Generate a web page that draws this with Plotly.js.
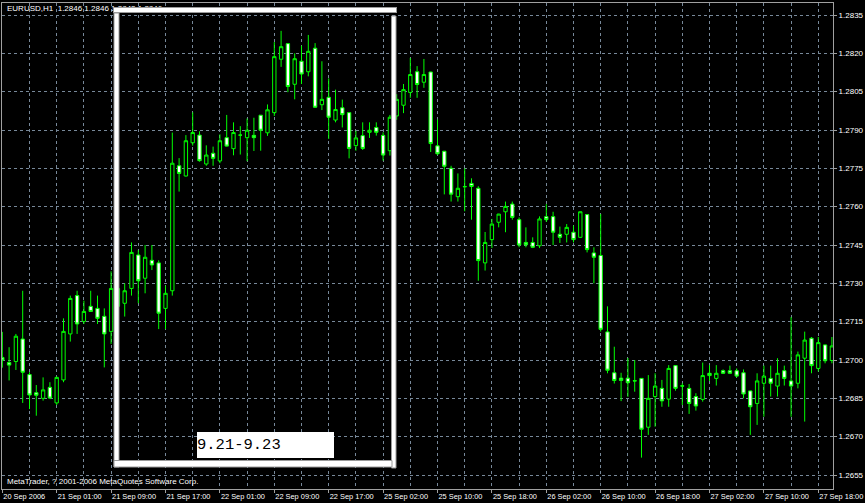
<!DOCTYPE html>
<html>
<head>
<meta charset="utf-8">
<script src="https://cdn.plot.ly/plotly-3.0.1.min.js"></script>
<style>html,body{margin:0;padding:0;background:#000;}#chart{width:865px;height:503px;}</style>
</head>
<body>
<div id="chart"></div>
<script>
// EURUSD H1 candles
const open = [1.27010,1.26990,1.26994,1.27082,1.26943,1.26872,1.26850,1.26893,1.26832,1.26922,
1.27102,1.27252,1.27151,1.27210,1.27202,1.27171,1.27112,1.27210,1.27222,1.27280,
1.27411,1.27320,1.27390,1.27380,1.27202,1.27271,1.27760,1.27720,1.27850,1.27880,
1.27767,1.27809,1.27779,1.27870,1.27827,1.27880,1.27870,1.27879,1.27958,1.27889,
1.27968,1.28177,1.28238,1.28079,1.28169,1.28128,1.28220,1.27999,1.28028,1.27939,
1.27987,1.27968,1.27839,1.27878,1.27891,1.27910,1.27879,1.27819,1.27955,1.27997,
1.28047,1.28128,1.28087,1.28127,1.27838,1.27817,1.27750,1.27639,1.27679,1.27691,
1.27672,1.27380,1.27471,1.27539,1.27580,1.27610,1.27549,1.27460,1.27460,1.27447,
1.27561,1.27561,1.27492,1.27492,1.27500,1.27480,1.27569,1.27419,1.27409,1.27110,
1.26950,1.26929,1.26929,1.26919,1.26928,1.26737,1.26857,1.26889,1.26847,1.26978,
1.26899,1.26889,1.26857,1.26846,1.26948,1.26928,1.26958,1.26958,1.26958,1.26950,
1.26879,1.26830,1.26909,1.26928,1.26898,1.26958,1.26918,1.26909,1.27007,1.27085,
1.26967,1.27059,1.26998];
const high = [1.27110,1.27050,1.27102,1.27271,1.26952,1.26902,1.26932,1.26913,1.26935,1.27163,
1.27252,1.27271,1.27232,1.27271,1.27252,1.27202,1.27347,1.27300,1.27300,1.27460,
1.27430,1.27450,1.27450,1.27390,1.27291,1.27890,1.27790,1.27880,1.27969,1.27895,
1.27840,1.27835,1.27883,1.27959,1.27930,1.27915,1.27945,1.27948,1.27958,1.28000,
1.28244,1.28288,1.28239,1.28200,1.28230,1.28272,1.28240,1.28169,1.28102,1.28058,
1.28019,1.27969,1.27897,1.27930,1.27930,1.27930,1.27891,1.27959,1.28040,1.28080,
1.28182,1.28150,1.28178,1.28128,1.27941,1.27818,1.27760,1.27730,1.27750,1.27711,
1.27680,1.27501,1.27552,1.27572,1.27620,1.27620,1.27558,1.27519,1.27480,1.27562,
1.27610,1.27580,1.27522,1.27532,1.27526,1.27581,1.27571,1.27441,1.27571,1.27210,
1.27052,1.26950,1.27008,1.27000,1.26929,1.26941,1.26948,1.26922,1.26980,1.26979,
1.26909,1.26906,1.26870,1.26990,1.26980,1.26980,1.26963,1.26978,1.26967,1.26963,
1.26880,1.26948,1.26978,1.26978,1.27007,1.26978,1.27168,1.27033,1.27111,1.27090,
1.27090,1.27060,1.27090];
const low = [1.26970,1.26920,1.26961,1.26832,1.26808,1.26782,1.26841,1.26847,1.26824,1.26913,
1.27072,1.27102,1.27141,1.27188,1.27141,1.26971,1.27063,1.27190,1.27170,1.27252,
1.27222,1.27261,1.27352,1.27121,1.27121,1.27252,1.27659,1.27718,1.27839,1.27776,
1.27760,1.27760,1.27770,1.27835,1.27801,1.27804,1.27778,1.27818,1.27819,1.27877,
1.27955,1.28147,1.28048,1.28020,1.28080,1.28110,1.27988,1.27978,1.27865,1.27930,
1.27910,1.27789,1.27819,1.27822,1.27869,1.27878,1.27780,1.27800,1.27940,1.27966,
1.28026,1.28026,1.28065,1.27814,1.27802,1.27648,1.27620,1.27620,1.27582,1.27549,
1.27310,1.27350,1.27438,1.27519,1.27500,1.27549,1.27441,1.27441,1.27438,1.27438,
1.27540,1.27450,1.27458,1.27460,1.27460,1.27479,1.27421,1.27300,1.27111,1.26948,
1.26908,1.26839,1.26856,1.26876,1.26618,1.26707,1.26739,1.26817,1.26817,1.26880,
1.26824,1.26789,1.26802,1.26837,1.26918,1.26900,1.26945,1.26945,1.26932,1.26850,
1.26707,1.26746,1.26778,1.26857,1.26857,1.26900,1.26778,1.26889,1.26759,1.26948,
1.26955,1.26987,1.26987];
const close = [1.27000,1.26980,1.27093,1.26952,1.26863,1.26862,1.26883,1.26851,1.26932,1.27112,
1.27241,1.27141,1.27190,1.27190,1.27163,1.27102,1.27280,1.27280,1.27271,1.27421,
1.27310,1.27402,1.27372,1.27183,1.27261,1.27770,1.27730,1.27858,1.27890,1.27780,
1.27802,1.27789,1.27858,1.27837,1.27890,1.27880,1.27899,1.27870,1.27899,1.27979,
1.28187,1.28226,1.28070,1.28179,1.28119,1.28208,1.27989,1.28020,1.27950,1.27980,
1.27960,1.27828,1.27869,1.27828,1.27899,1.27891,1.27802,1.27950,1.28020,1.28058,
1.28117,1.28078,1.28117,1.27847,1.27807,1.27758,1.27649,1.27672,1.27678,1.27679,
1.27389,1.27460,1.27532,1.27571,1.27601,1.27558,1.27450,1.27451,1.27441,1.27552,
1.27549,1.27500,1.27480,1.27519,1.27471,1.27580,1.27432,1.27402,1.27120,1.26960,
1.26920,1.26920,1.26911,1.26918,1.26729,1.26850,1.26898,1.26840,1.26967,1.26889,
1.26898,1.26830,1.26820,1.26939,1.26939,1.26948,1.26948,1.26948,1.26937,1.26867,
1.26817,1.26918,1.26937,1.26909,1.26948,1.26928,1.26898,1.27020,1.27078,1.26978,
1.27068,1.26997,1.27055];

// time-axis labels, one every 8 hourly bars
const timeLabels = ["20 Sep 2006","21 Sep 01:00","21 Sep 09:00","21 Sep 17:00","22 Sep 01:00",
"22 Sep 09:00","22 Sep 17:00","25 Sep 02:00","25 Sep 10:00","25 Sep 18:00","26 Sep 02:00",
"26 Sep 10:00","26 Sep 18:00","27 Sep 02:00","27 Sep 10:00","27 Sep 18:00"];
const priceTicks = [1.2655,1.2670,1.2685,1.2700,1.2715,1.2730,1.2745,1.2760,1.2775,1.2790,1.2805,1.2820,1.2835];
const chartTitle = "EURUSD,H1\u00a0\u00a01.2846\u00a01.2846\u00a01.2843\u00a01.2846";
const copyright = "MetaTrader, ? 2001-2006 MetaQuotes Software Corp.";
const boxLabel = "9.21-9.23";

const bars = open.map((_, i) => i);
const labelBars = timeLabels.map((_, k) => k * 8);

// plot-area geometry (pixels)
const L = 2, R = 833, T = 3, B = 489, W = 865, H = 503;
const fx = px => (px - L) / (R - L);
const fy = py => (B - py) / (B - T);

const GRID = '#778899';
const LIME = '#00ff00';
const FRAME = '#9a9a9a';
const FONT = 'Liberation Sans, Arial, sans-serif';

const trace = {
  type: 'candlestick',
  x: bars, open: open, high: high, low: low, close: close,
  increasing: {line: {color: LIME, width: 1}, fillcolor: '#000000'},
  decreasing: {line: {color: LIME, width: 1}, fillcolor: '#ffffff'},
  whiskerwidth: 0,
  hoverinfo: 'skip',
  showlegend: false
};

function whiteRect(x0, y0, x1, y1) {
  return {type: 'rect', xref: 'paper', yref: 'paper', layer: 'above',
    x0: fx(x0), x1: fx(x1), y0: fy(y1), y1: fy(y0),
    fillcolor: '#ffffff', line: {color: FRAME, width: 1}};
}

const layout = {
  width: W, height: H,
  margin: {l: L, r: W - R, t: T, b: H - B, pad: 0},
  paper_bgcolor: '#000000', plot_bgcolor: '#000000',
  showlegend: false,
  hovermode: false, dragmode: false,
  boxgap: 0.3,
  xaxis: {
    range: [(L - 2.3) / 6.8, (R - 2.3) / 6.8],
    rangeslider: {visible: false},
    tickmode: 'array', tickvals: labelBars, ticktext: timeLabels,
    tickangle: 0,
    ticklabelposition: 'outside right',
    ticklabeloverflow: 'allow',
    ticks: 'outside', ticklen: 3, tickcolor: '#a0a0a0',
    tickfont: {family: FONT, size: 7.4, color: '#ffffff'},
    showgrid: true, gridcolor: GRID, griddash: '3px,3px', gridwidth: 1,
    minor: {tickmode: 'linear', tick0: 0, dtick: 4, showgrid: true, gridcolor: GRID, griddash: '3px,3px', gridwidth: 1, ticks: ''},
    showline: true, linecolor: '#a0a0a0', linewidth: 1, mirror: true,
    zeroline: false, fixedrange: true
  },
  yaxis: {
    side: 'right',
    range: [1.264952, 1.283970],
    tickmode: 'array', tickvals: priceTicks, ticktext: priceTicks.map(v => v.toFixed(4)),
    ticks: 'outside', ticklen: 3, tickcolor: '#a0a0a0',
    ticklabeloverflow: 'allow',
    tickfont: {family: FONT, size: 8, color: '#ffffff'},
    showgrid: true, gridcolor: GRID, griddash: '3px,3px', gridwidth: 1,
    showline: true, linecolor: '#a0a0a0', linewidth: 1, mirror: true,
    zeroline: false, fixedrange: true
  },
  shapes: [
    whiteRect(114, 13, 119, 467),
    whiteRect(391.5, 16, 396, 468),
    whiteRect(114, 460.5, 392, 467)
  ],
  annotations: [
    {xref: 'paper', yref: 'paper', x: fx(5), y: fy(8.5), xanchor: 'left', yanchor: 'middle',
     text: chartTitle, showarrow: false,
     font: {family: FONT, size: 8, color: '#ffffff'}},
    {xref: 'paper', yref: 'paper', x: fx(113), y: fy(7), xanchor: 'left', yanchor: 'top',
     text: '\u00a0', showarrow: false, width: 282, height: 4, borderpad: 0,
     bgcolor: '#ffffff', bordercolor: FRAME, borderwidth: 1, font: {size: 1}},
    {xref: 'paper', yref: 'paper', x: fx(5), y: fy(481.5), xanchor: 'left', yanchor: 'middle',
     text: copyright, showarrow: false,
     font: {family: FONT, size: 8, color: '#ffffff'}},
    {xref: 'paper', yref: 'paper', x: fx(197), y: fy(432), xanchor: 'left', yanchor: 'top',
     text: boxLabel, showarrow: false, width: 137, height: 26, align: 'left', valign: 'middle',
     borderpad: 0, borderwidth: 0, bgcolor: '#ffffff',
     font: {family: 'Liberation Mono, Courier New, monospace', size: 15.5, color: '#000000'}}
  ]
};

Plotly.newPlot('chart', [trace], layout, {staticPlot: true, displayModeBar: false});
</script>
</body>
</html>
